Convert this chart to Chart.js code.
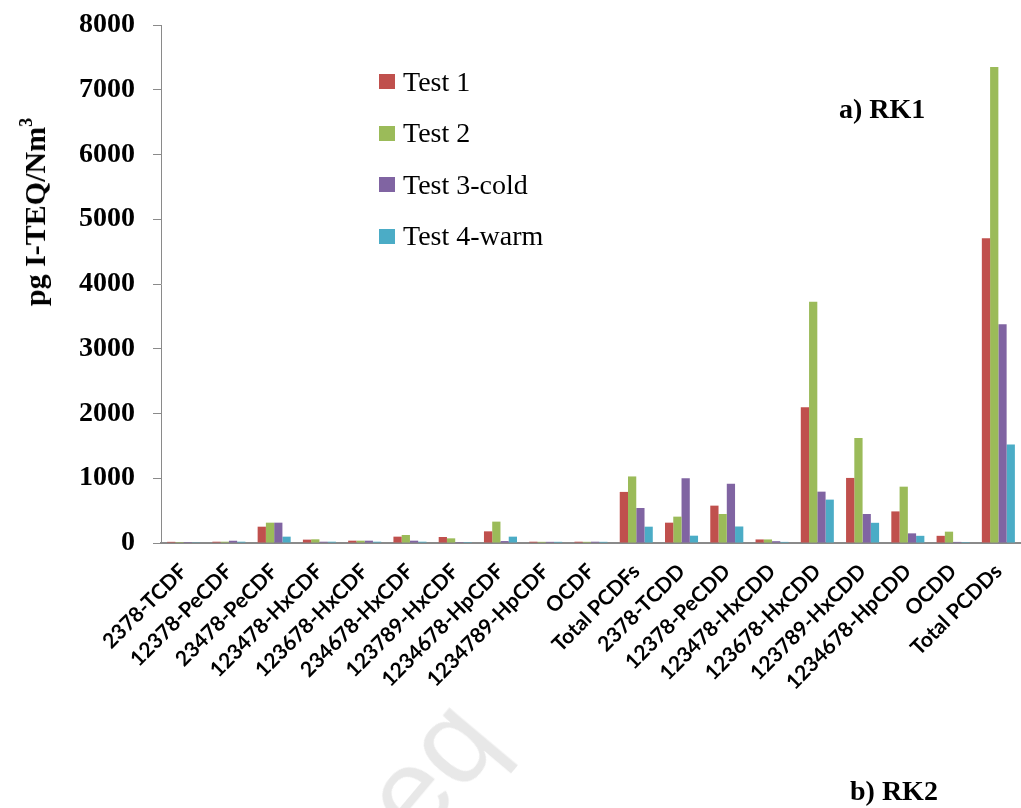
<!DOCTYPE html>
<html>
<head>
<meta charset="utf-8">
<script src="https://cdn.jsdelivr.net/npm/chart.js@4.4.1/dist/chart.umd.min.js"></script>
<style>
  html, body { margin: 0; padding: 0; background: #fff; }
  #wrap { position: relative; width: 1021px; height: 808px; overflow: hidden; background: #fff; }
  #chart { position: absolute; left: 0; top: 0; }
  .ytitle {
    position: absolute; left: 35px; top: 212px;
    transform: translate(-50%, -50%) rotate(-90deg);
    white-space: nowrap;
    font-family: "Liberation Serif", "Times New Roman", serif;
    font-weight: bold; font-size: 30px; color: #000;
  }
  .ytitle sup { font-size: 18px; vertical-align: 0; position: relative; top: -13px; }
  .legend {
    position: absolute; left: 379px; top: 56px;
    font-family: "Liberation Serif", "Times New Roman", serif;
    font-size: 28px; color: #000;
  }
  .legend .item { height: 51.5px; display: flex; align-items: center; }
  .legend .sw { width: 16px; height: 15px; margin-right: 8px; display: inline-block; }
  .panel {
    position: absolute; white-space: nowrap;
    font-family: "Liberation Serif", "Times New Roman", serif;
    font-weight: bold; font-size: 28px; color: #000;
  }
  .mark {
    position: absolute; white-space: nowrap;
    font-family: "Liberation Sans", Arial, sans-serif;
    font-size: 120px; color: #e8e8e8;
    transform-origin: 0 0; transform: rotate(-50deg);
  }
</style>
</head>
<body>
<div id="wrap">
  <canvas id="chart" width="1021" height="808"></canvas>
  <div class="mark" style="left:333px; top:774px;">eq</div>
  <div class="ytitle">pg I-TEQ/Nm<sup>3</sup></div>
  <div class="legend" id="legend"></div>
  <div class="panel" style="left:839px; top:93px;">a) RK1</div>
  <div class="panel" style="left:850px; top:775px;">b) RK2</div>
</div>
<script>
// PCDD/F congeners (I-TEQ) for the four RK1 test runs
const categories = [
  '2378-TCDF', '12378-PeCDF', '23478-PeCDF', '123478-HxCDF', '123678-HxCDF',
  '234678-HxCDF', '123789-HxCDF', '1234678-HpCDF', '1234789-HpCDF', 'OCDF',
  'Total PCDFs', '2378-TCDD', '12378-PeCDD', '123478-HxCDD', '123678-HxCDD',
  '123789-HxCDD', '1234678-HpCDD', 'OCDD', 'Total PCDDs'
];
const test1 = [18, 20, 252, 52, 36, 98, 93, 180, 20, 20, 789, 314, 577, 55, 2095, 1005, 488, 111, 4705];
const test2 = [15, 20, 314, 57, 36, 124, 72, 330, 18, 18, 1028, 407, 448, 55, 3727, 1621, 870, 175, 7350];
const test3 = [15, 35, 314, 20, 36, 36, 15, 30, 18, 20, 541, 1000, 915, 28, 793, 448, 149, 17, 3378];
const test4 = [12, 20, 98, 20, 20, 20, 15, 98, 18, 18, 252, 113, 255, 17, 670, 312, 111, 15, 1522];

const seriesNames = ['Test 1', 'Test 2', 'Test 3-cold', 'Test 4-warm'];
const seriesColors = ['#C0504D', '#9BBB59', '#8064A2', '#4BACC6'];
const seriesValues = [test1, test2, test3, test4];

const yMin = 0, yMax = 8000, yStep = 1000;

// legend
const legendEl = document.getElementById('legend');
seriesNames.forEach((name, i) => {
  const row = document.createElement('div');
  row.className = 'item';
  const sw = document.createElement('span');
  sw.className = 'sw';
  sw.style.background = seriesColors[i];
  row.appendChild(sw);
  row.appendChild(document.createTextNode(name));
  legendEl.appendChild(row);
});

const axisGray = '#8a8a8a';

new Chart(document.getElementById('chart'), {
  type: 'bar',
  data: {
    labels: categories,
    datasets: seriesNames.map((name, i) => ({
      label: name,
      data: seriesValues[i],
      backgroundColor: seriesColors[i],
      borderWidth: 0,
      categoryPercentage: 0.73,
      barPercentage: 1.0
    }))
  },
  options: {
    responsive: false,
    animation: false,
    layout: { padding: { left: 0, right: 0, top: 25, bottom: 0 } },
    plugins: {
      legend: { display: false },
      tooltip: { enabled: false }
    },
    scales: {
      x: {
        offset: true,
        grid: { display: false, drawTicks: false },
        border: { display: true, color: axisGray, width: 2 },
        ticks: {
          autoSkip: false,
          maxRotation: 45,
          minRotation: 45,
          padding: 16,
          color: '#000',
          font: { family: 'Lato, "Open Sans", sans-serif', weight: 'bold', size: 21 }
        },
        afterFit: (scale) => {
          scale.height = 808 - 543;
          scale.paddingLeft = 0;
          scale.paddingRight = 0;
        }
      },
      y: {
        min: yMin,
        max: yMax,
        grid: { drawOnChartArea: false, drawTicks: true, tickLength: 8, tickColor: axisGray },
        border: { display: true, color: axisGray, width: 1 },
        ticks: {
          stepSize: yStep,
          padding: 18,
          color: '#000',
          callback: (v) => String(v),
          font: { family: '"Liberation Serif", "Times New Roman", serif', weight: 'bold', size: 28 }
        },
        afterFit: (scale) => {
          scale.width = 161;
          scale.paddingTop = 0;
          scale.paddingBottom = 0;
        }
      }
    }
  }
});
</script>
</body>
</html>
